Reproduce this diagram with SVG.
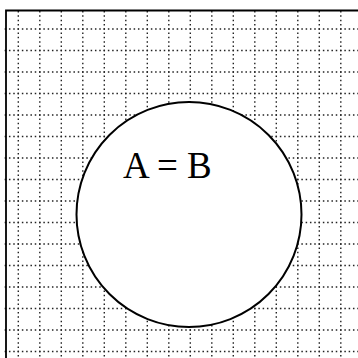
<svg xmlns="http://www.w3.org/2000/svg" width="358" height="358" viewBox="0 0 358 358">
<style>
.grid{fill:none;stroke:#222;stroke-width:1.4;stroke-dasharray:1.5 2.8}
.frame{fill:none;stroke:#000;stroke-width:1.8}
.shape{fill:#fff;stroke:#000;stroke-width:2}
.lbl{font-family:"Liberation Serif","Times New Roman",serif;font-size:37px;fill:#000}
</style>
<rect width="358" height="358" fill="#fff"/>
<g id="grid">
<path class="grid" d="M18.3 11.05V358M39.8 11.05V358M61.3 11.05V358M82.8 11.05V358M104.3 11.05V358M125.8 11.05V358M147.3 11.05V358M168.8 11.05V358M190.3 11.05V358M211.8 11.05V358M233.3 11.05V358M254.8 11.05V358M276.3 11.05V358M297.8 11.05V358M319.3 11.05V358M340.8 11.05V358"/>
<path class="grid" d="M4.65 29H358M4.65 50.5H358M4.65 72H358M4.65 93.5H358M4.65 115H358M4.65 136.5H358M4.65 158H358M4.65 179.5H358M4.65 201H358M4.65 222.5H358M4.65 244H358M4.65 265.5H358M4.65 287H358M4.65 308.5H358M4.65 330H358M4.65 351.5H358"/>
<path class="frame" d="M6 358V10.5H358"/>
</g>
<g id="circle">
<circle class="shape" cx="189" cy="214.5" r="112.5"/>
<text class="lbl" x="123" y="178">A = B</text>
</g>
</svg>
